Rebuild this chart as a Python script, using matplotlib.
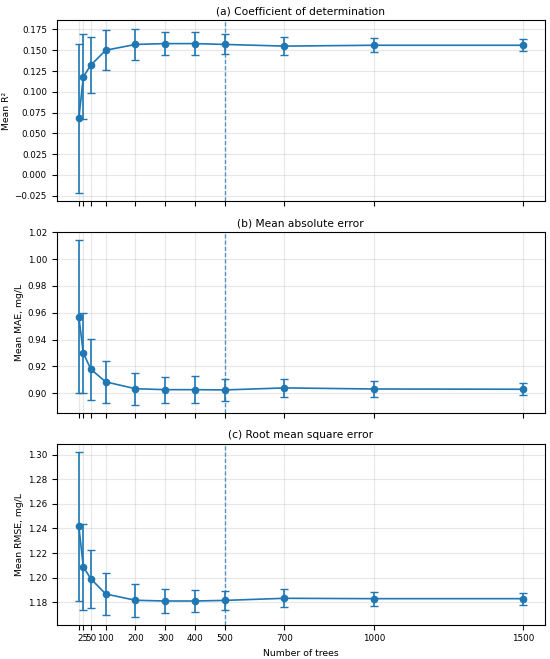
import matplotlib
matplotlib.use("Agg")
import matplotlib.pyplot as plt

n_trees = [10, 25, 50, 100, 200, 300, 400, 500, 700, 1000, 1500]
tick_labels = ["", "25", "50", "100", "200", "300", "400", "500", "700", "1000", "1500"]

r2_mean = [0.068, 0.118, 0.132, 0.150, 0.157, 0.158, 0.158, 0.157, 0.155, 0.156, 0.156]
r2_std = [0.090, 0.051, 0.034, 0.024, 0.019, 0.0137, 0.0135, 0.012, 0.0107, 0.0087, 0.0072]

mae_mean = [0.957, 0.930, 0.918, 0.9085, 0.9034, 0.9027, 0.9027, 0.9025, 0.904, 0.9032, 0.903]
mae_std = [0.057, 0.0295, 0.0227, 0.0155, 0.012, 0.0096, 0.0101, 0.0082, 0.0066, 0.0057, 0.0046]

rmse_mean = [1.2416, 1.2088, 1.1991, 1.1867, 1.1816, 1.181, 1.181, 1.1815, 1.1832, 1.1829, 1.1829]
rmse_std = [0.0605, 0.035, 0.0234, 0.0167, 0.0132, 0.0095, 0.0092, 0.008, 0.0073, 0.0057, 0.0049]

titles = ["(a) Coefficient of determination", "(b) Mean absolute error", "(c) Root mean square error"]
ylabels = ["Mean R²", "Mean MAE, mg/L", "Mean RMSE, mg/L"]
chosen = 500

color = "#1f77b4"

fig, axes = plt.subplots(3, 1, figsize=(5.5, 6.59), dpi=100, sharex=False)
fig.subplots_adjust(left=0.103, right=0.991, top=0.969, bottom=0.052, hspace=0.17)

data = [(r2_mean, r2_std), (mae_mean, mae_std), (rmse_mean, rmse_std)]
for i, (ax, (m, s)) in enumerate(zip(axes, data)):
    ax.errorbar(n_trees, m, yerr=s, fmt="-o", color=color, markersize=4.5,
                capsize=3.2, linewidth=1.2, elinewidth=1.2, capthick=1.0)
    ax.axvline(chosen, color=color, linestyle=(0, (3, 1.5)), linewidth=1, alpha=0.75)
    ax.set_title(titles[i], fontsize=7.7, pad=4)
    ax.set_ylabel(ylabels[i], fontsize=6.7, labelpad=2.5)
    ax.grid(True, alpha=0.3)
    ax.set_xticks(n_trees)
    ax.tick_params(labelsize=6.3)
    if i < 2:
        ax.set_xticklabels([])
    else:
        ax.set_xticklabels(tick_labels)
        ax.set_xlabel("Number of trees", fontsize=6.7)

axes[0].set_yticks([-0.025, 0.0, 0.025, 0.05, 0.075, 0.1, 0.125, 0.15, 0.175])
axes[1].set_yticks([0.90, 0.92, 0.94, 0.96, 0.98, 1.00, 1.02])
axes[1].set_yticklabels(["0.90", "0.92", "0.94", "0.96", "0.98", "1.00", "1.02"])
axes[2].set_yticks([1.18, 1.20, 1.22, 1.24, 1.26, 1.28, 1.30])
axes[2].set_yticklabels(["1.18", "1.20", "1.22", "1.24", "1.26", "1.28", "1.30"])

fig.savefig("out.png", dpi=100)
